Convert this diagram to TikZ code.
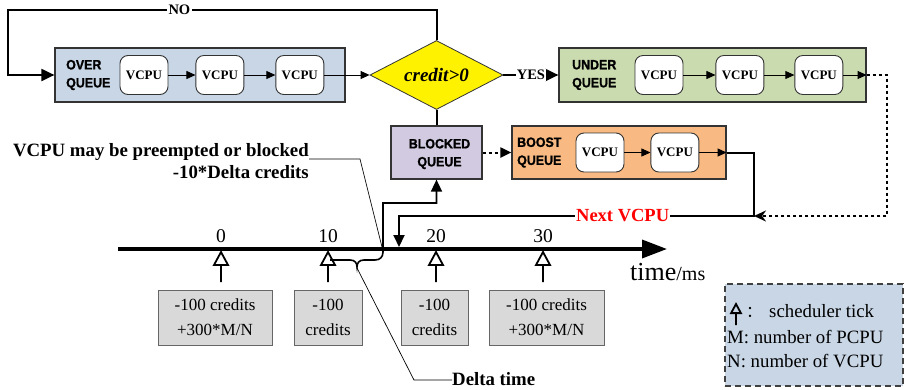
\documentclass[tikz,border=0pt]{standalone}
\usepackage{fontspec}
\setmainfont{Liberation Serif}
\newfontfamily\qfont[FakeStretch=0.92, BoldFeatures={FakeBold=1.2}]{Liberation Sans}
\newfontfamily\cjkfont{Noto Sans CJK SC}
\usetikzlibrary{shapes.geometric, arrows.meta, positioning}

\definecolor{overfill}{HTML}{C8D6E6}
\definecolor{underfill}{HTML}{CBDBB0}
\definecolor{blockfill}{HTML}{D2CAE0}
\definecolor{boostfill}{HTML}{F8BA82}
\definecolor{creditfill}{HTML}{D9D9D9}
\definecolor{keyfill}{HTML}{C8D6E6}

\begin{document}
\begin{tikzpicture}[
    x=1pt, y=-1pt,
    queue/.style={rectangle, draw=black!80, line width=1.2pt, minimum height=54pt, inner sep=0pt},
    qlabel/.style={font=\qfont\bfseries\fontsize{13.5}{18}\selectfont, align=left, inner sep=0pt},
    vcpu/.style={rectangle, rounded corners=8pt, draw=black!80, fill=white, line width=0.9pt, minimum width=48pt, minimum height=39pt, inner sep=0pt, font=\bfseries\fontsize{13}{15}\selectfont},
    decision/.style={diamond, draw=black!80, fill=yellow, line width=0.8pt, minimum width=133pt, minimum height=69pt, inner sep=0pt, aspect=2, font=\bfseries\itshape\fontsize{19}{21}\selectfont},
    credit/.style={rectangle, draw=black!60, fill=creditfill, line width=0.9pt, minimum height=55pt, align=center, inner sep=0pt, font=\fontsize{17}{25}\selectfont},
    link/.style={-{Triangle[length=9pt, width=8pt]}, line width=0.8pt},
    flow/.style={line width=2pt},
    bigtip/.style={-{Triangle[length=13pt, width=12pt]}},
    dashline/.style={line width=2pt, dash pattern=on 3pt off 3pt},
    schedtick/.pic={\draw[line width=1.8pt, line join=miter] (0,30) -- (0,13) (-7,13) -- (0,0) -- (7,13) -- cycle;},
    ticklabel/.style={anchor=base, inner sep=0pt, font=\fontsize{19.5}{20}\selectfont},
    note/.style={inner sep=0pt, font=\bfseries\fontsize{18.8}{22}\selectfont},
    keytext/.style={anchor=west, inner sep=0pt, font=\fontsize{18.8}{20}\selectfont},
    leader/.style={line width=0.7pt}
]
\useasboundingbox (0,0) rectangle (908,389);

% queues
\node[queue, fill=overfill, minimum width=290pt] (over) at (200,75) {};
\node[qlabel, anchor=west] (overlbl) at (66,75) {OVER\\QUEUE};
\node[vcpu] (ov1) at (144,75) {VCPU};
\node[vcpu, right=27pt of ov1] (ov2) {VCPU};
\node[vcpu, right=31pt of ov2] (ov3) {VCPU};

\node[decision] (cond) at (436.5,75) {credit>0};

\node[queue, fill=underfill, minimum width=307pt] (under) at (712.5,75) {};
\node[qlabel, anchor=west] (underlbl) at (572,75) {UNDER\\QUEUE};
\node[vcpu] (un1) at (659,75) {VCPU};
\node[vcpu, right=32pt of un1] (un2) {VCPU};
\node[vcpu, right=30pt of un2] (un3) {VCPU};

\node[queue, fill=blockfill, minimum width=91pt, minimum height=53pt] (blocked) at (436.5,152.5) {};
\node[qlabel, align=center] (blockedlbl) at (439.5,154) {BLOCKED\\QUEUE};

\node[queue, fill=boostfill, minimum width=214pt, minimum height=53pt] (boost) at (619,152.5) {};
\node[qlabel, anchor=west] (boostlbl) at (517,152.5) {BOOST\\QUEUE};
\node[vcpu] (bo1) at (600,152.5) {VCPU};
\node[vcpu, right=26pt of bo1] (bo2) {VCPU};

% links inside the queues
\draw[link] (ov1) -- (ov2);
\draw[link] (ov2) -- (ov3);
\draw[link] (ov3) -- (cond.west);
\draw[link] (un1) -- (un2);
\draw[link] (un2) -- (un3);
\draw[link] (un3) -- (under.east);
\draw[link] (bo1) -- (bo2);
\draw[link] (bo2) -- (boost.east);

% decision
\coordinate (notop) at (436.5,10);
\coordinate (noleft) at (8,10);
\draw[flow, bigtip] (cond.north) -- (notop) -- node[pos=0.6, fill=white, inner sep=2pt, font=\bfseries\fontsize{14.5}{15}\selectfont] {NO} (noleft) |- (over.west);
\draw[flow, bigtip] (cond.east) -- node[fill=white, inner sep=1pt, font=\bfseries\fontsize{14.5}{15}\selectfont] {YES} (under.west);
\draw[flow] (cond.south) -- (blocked.north);
\draw[dashline, -{Triangle[length=11pt, width=10pt]}] (blocked.east) -- (boost.west);

% next vcpu
\coordinate (nvright) at (754,216);
\coordinate (nvleft) at (399,216);
\coordinate (nvtip) at (399,247);
\coordinate (dotright) at (887,216);
\draw[flow, -{Triangle[length=12pt, width=11pt]}] (boost.east) -| (nvright) -- node[pos=0.37, fill=white, inner sep=1pt, text=red, font=\bfseries\fontsize{18.5}{20}\selectfont] {Next VCPU} (nvleft) -- (nvtip);
\draw[dashline, -{Stealth[length=12pt, width=11pt]}] (under.east) -| (dotright) -- (nvright);

% time axis
\coordinate (tstart) at (118,249);
\coordinate (tend) at (667,249);
\draw[line width=3.5pt, -{Triangle[length=25pt, width=18pt]}] (tstart) -- (tend);
\node[anchor=base west, inner sep=0pt, font=\fontsize{26}{26}\selectfont] (timelbl) at (630,280) {time{\fontsize{20}{20}\selectfont/ms}};

\foreach \t/\x in {0/221, 10/328, 20/436, 30/543} {
    \node[ticklabel] (tl\t) at (\x,242) {\t};
    \pic at (\x,252) {schedtick};
}

\node[credit, minimum width=114pt] (cr0) at (215,317.5) {-100 credits\\+300*M/N};
\node[credit, minimum width=68pt] (cr10) at (328,317.5) {-100\\credits};
\node[credit, minimum width=67pt] (cr20) at (434.5,317.5) {-100\\credits};
\node[credit, minimum width=115pt] (cr30) at (546.5,317.5) {-100 credits\\+300*M/N};

% brace for delta time, running up into the blocked queue
\draw[line width=1.6pt, -{Triangle[length=12pt, width=11pt]}] (330,260) -- (350,260)
    .. controls (355,260) and (357,263) .. (357,267)
    .. controls (357,263) and (359,260) .. (364,260) -- (375,260)
    .. controls (380,260) and (383,257) .. (383,252) -- (383,203) -| (blocked.south);

% notes
\node[note, align=right, anchor=east] (preempt) at (309,161) {VCPU may be preempted or blocked\\-10*Delta credits};
\coordinate (pbend) at (360,159);
\coordinate (phit) at (382,247);
\draw[leader] (preempt.east |- pbend) -- (pbend) -- (phit);
\node[note, anchor=base west] (delta) at (452,385) {Delta time};
\coordinate (dbend) at (414,380);
\coordinate (dtop) at (357,268);
\draw[leader] (dtop) -- (dbend) -- (delta.west |- dbend);

% legend
\node[rectangle, draw=black!75, fill=keyfill, line width=1.2pt, dash pattern=on 6pt off 4pt, minimum width=178pt, minimum height=102pt] (key) at (814,335) {};
\pic[scale=0.7] at (736,304) {schedtick};
\node[inner sep=0pt, font=\cjkfont\fontsize{16}{16}\selectfont] (keycolon) at (754,312) {：};
\node[keytext] (keytick) at (769,311) {scheduler tick};
\node[keytext] (keym) at (727,337) {M: number of PCPU};
\node[keytext] (keyn) at (727,361) {N: number of VCPU};

\end{tikzpicture}
\end{document}
